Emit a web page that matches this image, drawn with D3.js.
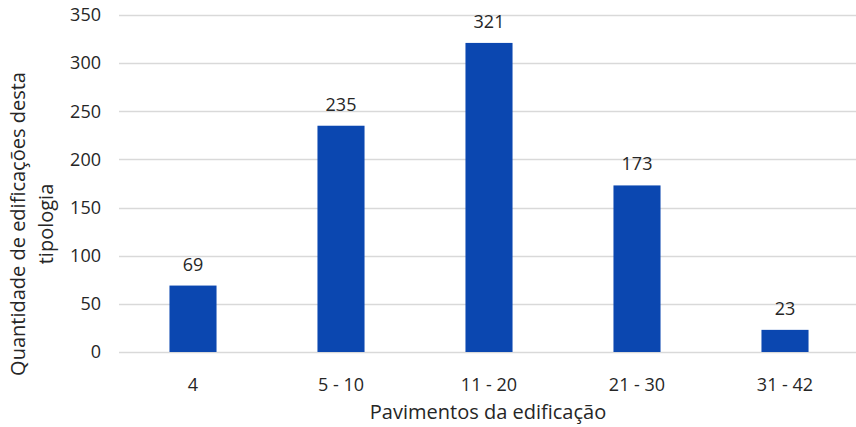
<!DOCTYPE html>
<html>
<head>
<meta charset="utf-8">
<script src="https://cdn.jsdelivr.net/npm/d3@7"></script>
<style>
body { margin: 0; background: #fff; }
text { font-family: "Open Sans", sans-serif; fill: #262626; }
</style>
</head>
<body>
<div id="chart"></div>
<script>
var categories = ["4", "5 - 10", "11 - 20", "21 - 30", "31 - 42"];
var values = [69, 235, 321, 173, 23];
var yTicks = [0, 50, 100, 150, 200, 250, 300, 350];

var w = 856, h = 427;
var plotLeft = 119, plotRight = 859, plotTop = 15, plotBottom = 352;

var svg = d3.select("#chart").append("svg")
    .attr("width", w)
    .attr("height", h);

var x = d3.scaleBand()
    .domain(categories)
    .range([plotLeft, plotRight])
    .paddingInner(0.682)
    .paddingOuter(0.341);

var y = d3.scaleLinear()
    .domain([0, 350])
    .range([plotBottom, plotTop]);

// gridlines
svg.append("g")
  .selectAll("line")
  .data(yTicks)
  .enter().append("line")
  .attr("x1", plotLeft)
  .attr("x2", w)
  .attr("y1", function(d) { return Math.round(y(d)) + 0.5; })
  .attr("y2", function(d) { return Math.round(y(d)) + 0.5; })
  .attr("stroke", "#d9d9d9")
  .attr("stroke-width", 1.5);

// y tick labels
svg.append("g")
  .selectAll("text")
  .data(yTicks)
  .enter().append("text")
  .attr("x", 101)
  .attr("y", function(d) { return y(d); })
  .attr("dy", "0.35em")
  .attr("text-anchor", "end")
  .style("font-size", "18px")
  .text(function(d) { return d; });

// bars
svg.append("g")
  .selectAll("rect")
  .data(values)
  .enter().append("rect")
  .attr("x", function(d, i) { return x(categories[i]); })
  .attr("width", x.bandwidth())
  .attr("y", function(d) { return y(d); })
  .attr("height", function(d) { return y(0) - y(d); })
  .attr("fill", "#0B47B0");

// value labels
svg.append("g")
  .selectAll("text")
  .data(values)
  .enter().append("text")
  .attr("x", function(d, i) { return x(categories[i]) + x.bandwidth() / 2; })
  .attr("y", function(d) { return y(d) - 15; })
  .attr("text-anchor", "middle")
  .style("font-size", "18px")
  .text(function(d) { return d; });

// x tick labels
svg.append("g")
  .selectAll("text")
  .data(categories)
  .enter().append("text")
  .attr("x", function(d) { return x(d) + x.bandwidth() / 2; })
  .attr("y", 391)
  .attr("text-anchor", "middle")
  .style("font-size", "18px")
  .text(function(d) { return d; });

// axis titles
svg.append("text")
  .attr("x", 488)
  .attr("y", 419)
  .attr("text-anchor", "middle")
  .style("font-size", "20px")
  .text("Pavimentos da edificação");

var yt = svg.append("text")
  .attr("transform", "translate(0,224) rotate(-90)")
  .attr("text-anchor", "middle")
  .style("font-size", "20px");
yt.append("tspan").attr("x", 0).attr("y", 25).text("Quantidade de edificações desta");
yt.append("tspan").attr("x", 0).attr("y", 53).text("tipologia");
</script>
</body>
</html>
